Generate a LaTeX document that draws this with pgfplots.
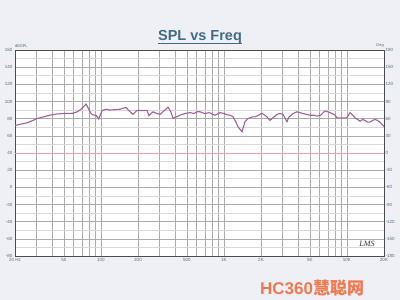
\documentclass[border=0pt]{standalone}
\usepackage{pgfplots}
\pgfplotsset{compat=1.18}
\usetikzlibrary{calc}
\usepackage{fontspec}
\setmainfont{Liberation Sans}
\newfontfamily\cjk{Noto Sans CJK SC}
\newfontfamily\scriptf{Liberation Serif}
\definecolor{bg}{HTML}{EEF0F5}
\definecolor{titlec}{HTML}{456A86}
\definecolor{tickc}{HTML}{5A6A7A}
\definecolor{gridc}{HTML}{ABABAB}
\definecolor{gridm}{HTML}{D8D8D8}
\definecolor{curve}{HTML}{A0609A}
\definecolor{refl}{HTML}{E8A0B4}
\definecolor{hcorange}{HTML}{F05A28}
\begin{document}
\begin{tikzpicture}[x=1pt,y=1pt]
\fill[bg] (-15,-44) rectangle (385,256);
\begin{axis}[
  at={(0,0)}, anchor=south west,
  scale only axis, width=369pt, height=206pt,
  xmode=log, xmin=20, xmax=20000,
  ymin=-80, ymax=160,
  axis background/.style={fill=white},
  axis line style={draw=black!70, line width=0.8pt},
  xtick={20,30,40,50,60,70,80,90,100,200,300,400,500,600,700,800,900,1000,2000,3000,4000,5000,6000,7000,8000,9000,10000,20000},
  xticklabels={20 Hz,,,50,,,,,100,200,,,500,,,,,1K,2K,,,5K,,,,,10K,20K},
  ytick={-80,-60,...,160},
  minor ytick={-70,-50,...,150},
  grid=both,
  major grid style={draw=gridc, line width=0.5pt},
  minor grid style={draw=gridm, line width=0.5pt},
  every x tick/.style={draw=none},
  every y tick/.style={draw=none},
  minor tick length=0pt, major tick length=0pt,
  /pgf/number format/assume math mode=true,
  ticklabel style={font=\fontsize{4.5}{5}\selectfont, text=tickc},
  xticklabel style={yshift=1pt},
  yticklabel style={xshift=1pt},
  clip=true,
]
\addplot[refl, line width=0.6pt, forget plot] coordinates {(20,40) (20000,40)};
\addplot[curve, line width=1.1pt] coordinates {
(20,72) (22,73.5) (24,74.5) (26,76) (28,78) (30,80) (34,82) (38,84) (44,85.5) (50,86) (59,86.3)
(64,88) (67.5,90) (72,94) (75.5,97) (79,92) (83,86) (86,84.4) (91,84) (96,79.7)
(102,89.4) (110,91) (118,90) (130,90.5) (143,91) (150,92) (160,93) (170,89) (182,85)
(196,89.6) (215,89.5) (237,89.6) (245,83.6) (265,88) (285,86) (302,85) (325,89) (351,93.4)
(370,88) (385,80.5) (410,82) (439,84) (482,86) (530,87) (570,86) (604,88) (638,88)
(700,86) (760,87) (845,84) (929,87) (1000,86) (1058,84.5) (1120,84) (1183,82.4)
(1250,76) (1300,70.6) (1360,67) (1402,64.7) (1482,76.5) (1560,80) (1628,81) (1700,82) (1788,82)
(1900,84) (2038,86.3) (2150,84) (2238,82) (2366,78) (2500,81) (2698,85) (2850,86) (3020,85)
(3150,80) (3252,76.5) (3380,82) (3650,86) (3926,88) (4150,87) (4388,86) (4700,85) (5000,84)
(5350,84) (5700,83) (6100,84) (6620,89) (7000,88) (7560,86) (8000,84) (8300,81) (9000,81) (10000,81)
(10580,87) (11000,85) (11620,81) (12200,79) (12760,77) (13400,79) (14020,78) (14700,76) (15380,76)
(16100,78) (16900,79) (17700,78) (18540,76) (19100,74) (19640,72) (20000,71)
};
\end{axis}
\begin{axis}[
  at={(0,0)}, anchor=south west,
  scale only axis, width=369pt, height=206pt,
  xmode=log, xmin=20, xmax=20000,
  ymin=-180, ymax=180,
  axis x line=none,
  axis y line*=right,
  axis line style={draw=black!70, line width=0.8pt},
  ytick={-180,-150,...,180},
  every y tick/.style={draw=none},
  major tick length=0pt,
  /pgf/number format/assume math mode=true,
  ticklabel style={font=\fontsize{4.5}{5}\selectfont, text=tickc},
  yticklabel style={anchor=west, inner sep=0pt, xshift=1.5pt},
]
\addplot[draw=none, forget plot] coordinates {(20,0)};
\end{axis}
\node[anchor=south west, font=\fontsize{4}{5}\selectfont, text=tickc, inner sep=0pt] at (0,208) {dBSPL};
\node[anchor=south east, font=\fontsize{4}{5}\selectfont, text=tickc, inner sep=0pt] at (369,208) {Deg};
\node[font=\bfseries\fontsize{14.5}{16}\selectfont, text=titlec, inner sep=1pt] (t) at (185,219) {SPL vs Freq};
\draw[titlec, line width=1.2pt] ($(t.south west)+(1,1.0)$) -- ($(t.south east)+(-1,1.0)$);
\node[font=\scriptf\itshape\fontsize{8}{9}\selectfont, text=black!80] at (352,12) {LMS};
\node[anchor=west, font=\bfseries\fontsize{17}{18}\selectfont, text=hcorange, opacity=0.8, inner sep=0pt] at (245,-32) {HC360\cjk 慧聪网};
\pgfresetboundingbox
\useasboundingbox (-15,-44) rectangle (385,256);
\end{tikzpicture}
\end{document}
